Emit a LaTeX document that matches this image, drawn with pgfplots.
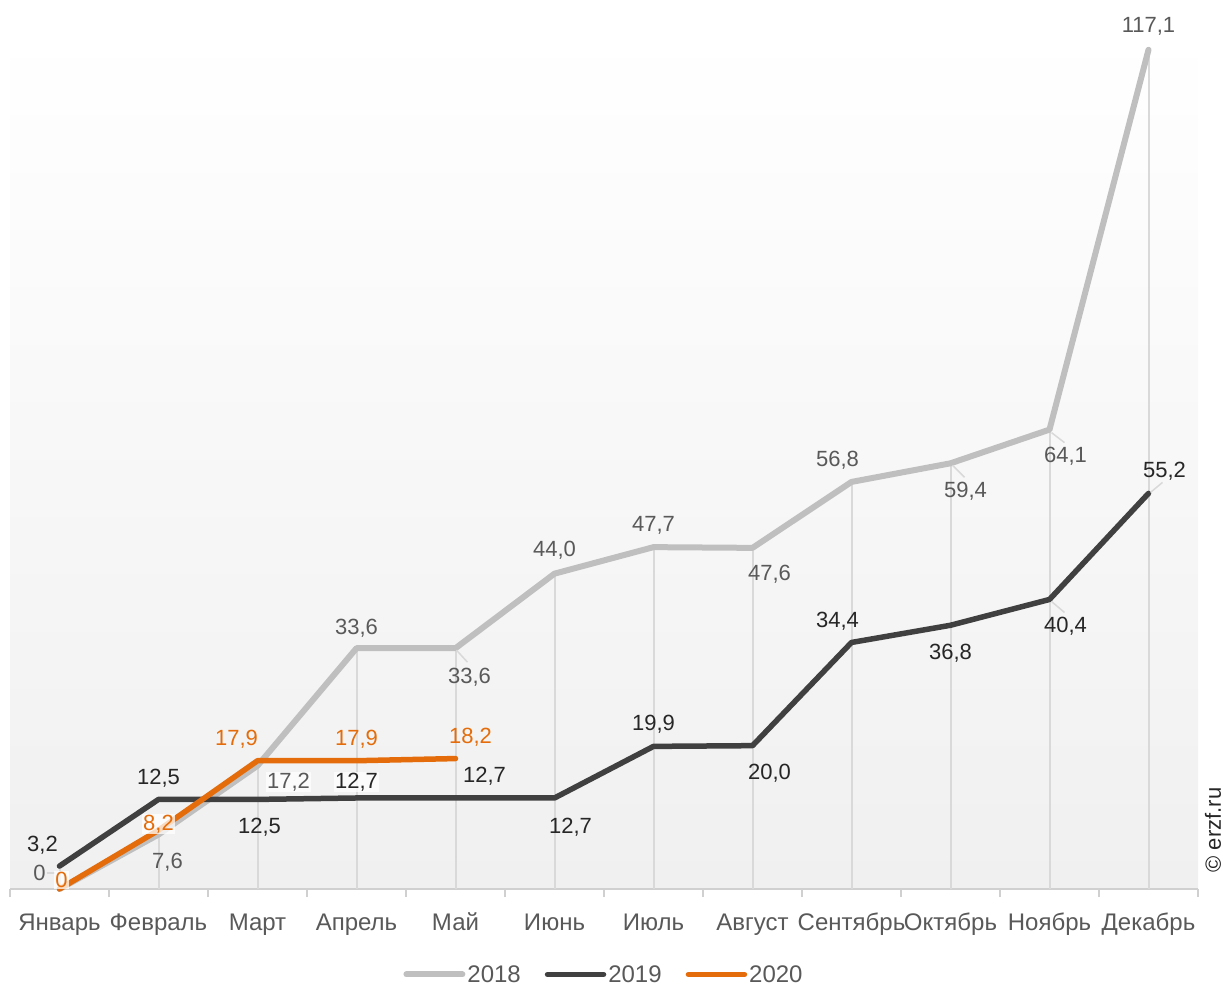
\documentclass[border=0pt]{standalone}
\usepackage{pgfplots}
\pgfplotsset{compat=1.18}
\usepackage{fontspec}
\setmainfont{Liberation Sans}
\definecolor{c18}{RGB}{191,191,191}
\definecolor{c18t}{RGB}{89,89,89}
\definecolor{c19}{RGB}{64,64,64}
\definecolor{c19t}{RGB}{38,38,38}
\definecolor{c20}{RGB}{228,108,10}
\definecolor{dropc}{RGB}{217,217,217}
\definecolor{bgbot}{RGB}{240,240,240}
\definecolor{axc}{RGB}{208,208,208}
\begin{document}
\begin{tikzpicture}
\useasboundingbox (-10pt,-96pt) rectangle (1218pt,889pt);
\begin{axis}[
  scale only axis,
  width=1188pt, height=860pt,
  xmin=-0.5, xmax=11.5, ymin=0, ymax=120,
  clip=false,
  axis background/.style={top color=white, bottom color=bgbot},
  axis x line=bottom, axis y line=none,
  x axis line style={-, draw=axc, line width=2pt},
  xtick={0,...,11},
  xticklabels={Январь,Февраль,Март,Апрель,Май,Июнь,Июль,Август,Сентябрь,Октябрь,Ноябрь,Декабрь},
  major tick length=0pt,
  minor xtick={-0.5,0.5,...,11.5},
  minor tick length=8pt,
  tick align=outside,
  minor tick style={draw=axc, line width=2pt},
  xticklabel style={text=c18t, anchor=base, yshift=-41pt, inner sep=0pt, font=\fontsize{24}{28}\selectfont},
  font=\fontsize{22}{26}\selectfont,
  legend style={at={(0.5,-0.0994)}, anchor=center, draw=none, fill=none,
    legend columns=3, text=c18t, font=\fontsize{24}{28}\selectfont,
    nodes={inner xsep=2pt},
    /tikz/every even column/.append style={column sep=22pt}},
  legend image code/.code={\draw[#1] (0pt,0pt) -- (56pt,0pt);},
]
% drop lines
\addplot[ycomb, draw=dropc, line width=2pt, forget plot] coordinates {
 (0,3.2) (1,8.2) (2,17.9) (3,33.6) (4,33.6) (5,44.0) (6,47.7) (7,47.6) (8,56.8) (9,59.4) (10,64.1) (11,117.1)};
\addplot[c18, line width=6pt, line cap=round, line join=round] coordinates {
 (0,0) (1,7.6) (2,17.2) (3,33.6) (4,33.6) (5,44.0) (6,47.7) (7,47.6) (8,56.8) (9,59.4) (10,64.1) (11,117.1)};
\addlegendentry{2018}
\addplot[c19, line width=5.5pt, line cap=round, line join=round] coordinates {
 (0,3.2) (1,12.5) (2,12.5) (3,12.7) (4,12.7) (5,12.7) (6,19.9) (7,20.0) (8,34.4) (9,36.8) (10,40.4) (11,55.2)};
\addlegendentry{2019}
\addplot[c20, line width=5.5pt, line cap=round, line join=round] coordinates {
 (0,0) (1,8.2) (2,17.9) (3,17.9) (4,18.2)};
\addlegendentry{2020}
\tikzset{l18/.style={text=c18t, inner sep=1pt}, l19/.style={text=c19t, inner sep=1pt}, l20/.style={text=c20, inner sep=1pt},
  wb/.style={fill=white, fill opacity=0.75, text opacity=1},
  lead/.style={draw=dropc, line width=1.5pt}}
% leader lines
\draw[lead] ([xshift=-13pt,yshift=16pt]axis cs:0,0) -- ([xshift=-5pt,yshift=16pt]axis cs:0,0);
\draw[lead] ([xshift=1pt,yshift=-2pt]axis cs:4,33.6) -- ([xshift=12pt,yshift=-14pt]axis cs:4,33.6);
\draw[lead] ([xshift=2pt,yshift=-2pt]axis cs:9,59.4) -- ([xshift=14pt,yshift=-14pt]axis cs:9,59.4);
\draw[lead] ([xshift=2pt,yshift=-3pt]axis cs:10,64.1) -- ([xshift=15pt,yshift=-13pt]axis cs:10,64.1);
\draw[lead] ([xshift=2pt,yshift=-2pt]axis cs:10,40.4) -- ([xshift=15pt,yshift=-13pt]axis cs:10,40.4);
\draw[lead] ([xshift=2pt,yshift=1pt]axis cs:11,55.2) -- ([xshift=14pt,yshift=11pt]axis cs:11,55.2);
% labels 2018
\node[l18] at ([xshift=-20pt,yshift=16pt]axis cs:0,0) {0};
\node[l18] at ([xshift=9pt,yshift=-28pt]axis cs:1,7.6) {7,6};
\node[l18,wb] at ([xshift=31pt,yshift=-16pt]axis cs:2,17.2) {17,2};
\node[l18] at ([xshift=0pt,yshift=20pt]axis cs:3,33.6) {33,6};
\node[l18] at ([xshift=14pt,yshift=-29pt]axis cs:4,33.6) {33,6};
\node[l18] at ([xshift=0pt,yshift=23pt]axis cs:5,44.0) {44,0};
\node[l18] at ([xshift=0pt,yshift=22pt]axis cs:6,47.7) {47,7};
\node[l18] at ([xshift=17pt,yshift=-26pt]axis cs:7,47.6) {47,6};
\node[l18] at ([xshift=-14pt,yshift=22pt]axis cs:8,56.8) {56,8};
\node[l18] at ([xshift=15pt,yshift=-28pt]axis cs:9,59.4) {59,4};
\node[l18] at ([xshift=16pt,yshift=-27pt]axis cs:10,64.1) {64,1};
\node[l18] at ([xshift=0pt,yshift=23pt]axis cs:11,117.1) {117,1};
% labels 2019
\node[l19] at ([xshift=-17pt,yshift=21pt]axis cs:0,3.2) {3,2};
\node[l19] at ([xshift=0pt,yshift=21pt]axis cs:1,12.5) {12,5};
\node[l19] at ([xshift=2pt,yshift=-28pt]axis cs:2,12.5) {12,5};
\node[l19,wb] at ([xshift=0pt,yshift=16pt]axis cs:3,12.7) {12,7};
\node[l19] at ([xshift=29pt,yshift=22pt]axis cs:4,12.7) {12,7};
\node[l19] at ([xshift=16pt,yshift=-29pt]axis cs:5,12.7) {12,7};
\node[l19] at ([xshift=0pt,yshift=22pt]axis cs:6,19.9) {19,9};
\node[l19] at ([xshift=17pt,yshift=-28pt]axis cs:7,20.0) {20,0};
\node[l19] at ([xshift=-14pt,yshift=21pt]axis cs:8,34.4) {34,4};
\node[l19] at ([xshift=0pt,yshift=-28pt]axis cs:9,36.8) {36,8};
\node[l19] at ([xshift=16pt,yshift=-27pt]axis cs:10,40.4) {40,4};
\node[l19] at ([xshift=16pt,yshift=22pt]axis cs:11,55.2) {55,2};
% labels 2020
\node[l20,wb] at ([xshift=2pt,yshift=9pt]axis cs:0,0) {0};
\node[l20,wb] at ([xshift=0pt,yshift=6pt]axis cs:1,8.2) {8,2};
\node[l20] at ([xshift=-21pt,yshift=21pt]axis cs:2,17.9) {17,9};
\node[l20] at ([xshift=0pt,yshift=21pt]axis cs:3,17.9) {17,9};
\node[l20] at ([xshift=15pt,yshift=21pt]axis cs:4,18.2) {18,2};
\end{axis}
\node[rotate=90, text=c19t, font=\fontsize{22}{26}\selectfont, anchor=center] at (1203pt,59pt) {© erzf.ru};
\end{tikzpicture}
\end{document}
